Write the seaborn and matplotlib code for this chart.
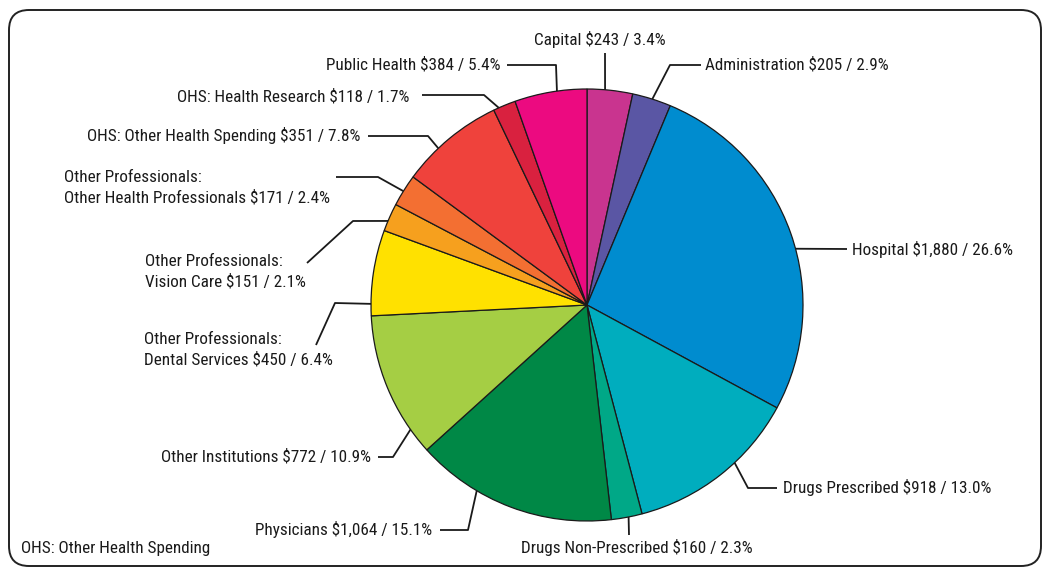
import numpy as np
import matplotlib
matplotlib.use("Agg")
import matplotlib.pyplot as plt
from matplotlib.patches import FancyBboxPatch
from matplotlib import font_manager as fm
import seaborn as sns

# ---- data ----
categories = ["Capital", "Administration", "Hospital", "Drugs Prescribed",
              "Drugs Non-Prescribed", "Physicians", "Other Institutions",
              "Other Professionals:\nDental Services", "Other Professionals:\nVision Care",
              "Other Professionals:\nOther Health Professionals",
              "OHS: Other Health Spending", "OHS: Health Research", "Public Health"]
dollars = ["$243", "$205", "$1,880", "$918", "$160", "$1,064", "$772",
           "$450", "$151", "$171", "$351", "$118", "$384"]
percents = [3.4, 2.9, 26.6, 13.0, 2.3, 15.1, 10.9, 6.4, 2.1, 2.4, 7.8, 1.7, 5.4]
colors = ["#C9348F", "#5A56A4", "#008CCF", "#00ADBE", "#00A887", "#008846",
          "#A5CE44", "#FFE100", "#F6A01E", "#F36F32", "#EF423C", "#D9213F", "#EC0A80"]
footnote = "OHS: Other Health Spending"

# ---- layout (image pixel coordinates, y downward) ----
W, H = 1043, 568
center_px = (587, 305)
radius_px = 216
anchor_deg = [4.8, 17.6, 74.9, 136.9, 168.9, 210.7, 234.8, 270.3, 292.9, 301.8, 316.5, 335.9, 352.0]
elbows = [
    [(605, 53)],
    [(670, 65), (701, 65)],
    [(847, 249)],
    [(748, 488), (777, 488)],
    [(629, 535)],
    [(468, 530), (440, 530)],
    [(393, 457), (378, 457)],
    [(335, 303), (316, 345)],
    [(353, 221), (307, 263)],
    [(378, 177), (336, 177)],
    [(428, 136), (368, 136)],
    [(484, 95), (422, 95)],
    [(556, 65), (507, 65)],
]
text_pos = [(600, 39, "center"), (705, 65, "left"), (852, 249, "left"), (783, 488, "left"),
            (637, 547, "center"), (432, 530, "right"), (371, 457, "right"),
            (144, 350, "left"), (145, 272, "left"), (64, 188, "left"),
            (360, 136, "right"), (409, 97, "right"), (500, 65, "right")]

sns.set_theme(style="white")
available = {f.name for f in fm.fontManager.ttflist}
candidates = ["Roboto Condensed", "Archivo Narrow", "PT Sans Narrow", "Fira Sans Condensed",
              "Liberation Sans Narrow", "Barlow Condensed", "Open Sans Condensed",
              "DejaVu Sans Condensed", "DejaVu Sans"]
family = [c for c in candidates if c in available][:1] + ["DejaVu Sans"]
plt.rcParams['font.family'] = family

fig = plt.figure(figsize=(W / 100, H / 100), dpi=100)
ax = fig.add_axes([0, 0, 1, 1])

# fit font size so that the Hospital label is ~160 px wide, as in the reference
renderer = fig.canvas.get_renderer()
probe = fig.text(0, 0, "Hospital $1,880 / 26.6%", fontsize=12)
wpx = probe.get_window_extent(renderer).width
probe.remove()
FS = 12 * 161.0 / wpx

ax.pie(percents, colors=colors, startangle=90, counterclock=False,
       center=(center_px[0], H - center_px[1]), radius=radius_px,
       wedgeprops=dict(edgecolor="#1a1a1a", linewidth=0.9))
ax.set_xlim(0, W)
ax.set_ylim(0, H)
ax.set_aspect("auto")
ax.axis("off")

cx, cy = center_px
for i, cat in enumerate(categories):
    a = np.deg2rad(anchor_deg[i])
    ex = cx + radius_px * np.sin(a)
    ey = cy - radius_px * np.cos(a)
    pts = [(ex, ey)] + elbows[i]
    xs = [p[0] for p in pts]
    ys = [H - p[1] for p in pts]
    ax.plot(xs, ys, color="#1a1a1a", lw=1.3, solid_capstyle="butt")
    tx, ty, ha = text_pos[i]
    label = f"{cat} {dollars[i]} / {percents[i]:.1f}%"
    ax.text(tx, H - ty, label, ha=ha, va="center", fontsize=FS, color="#1a1a1a",
            linespacing=1.4)

ax.text(21, H - 548, footnote, ha="left", va="center", fontsize=FS, color="#1a1a1a")

box = FancyBboxPatch((9, H - 566), 1032, 556, boxstyle="round,pad=0,rounding_size=20",
                     fill=False, edgecolor="#222222", lw=1.4, transform=ax.transData,
                     clip_on=False)
ax.add_patch(box)

fig.savefig("out.png", dpi=100)
